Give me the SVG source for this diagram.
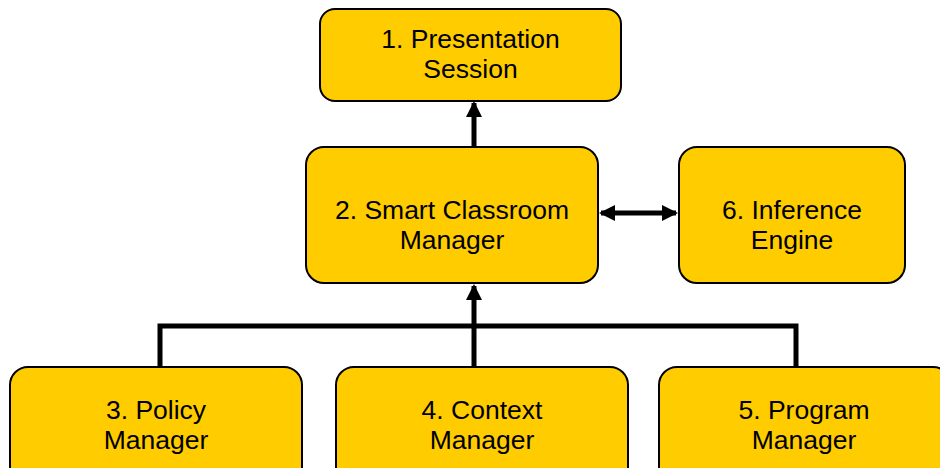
<svg xmlns="http://www.w3.org/2000/svg" width="940" height="468" viewBox="0 0 940 468">
<style>
.box{fill:#FFCC00;stroke:#000;stroke-width:2}
.t{font-family:"Liberation Sans",Arial,sans-serif;font-size:26.5px;fill:#000;text-anchor:middle}
.c{stroke:#000;stroke-width:5;fill:none}
</style>
<defs>
<marker id="ah" viewBox="0 0 16 16" refX="14" refY="8" markerWidth="16" markerHeight="16" orient="auto-start-reverse" markerUnits="userSpaceOnUse">
<path d="M0,0L16,8L0,16z" fill="#000"/>
</marker>
</defs>
<g id="connectors">
<line class="c" x1="474" y1="147" x2="474" y2="103" marker-end="url(#ah)"/>
<line class="c" x1="601" y1="213" x2="676" y2="213" marker-start="url(#ah)" marker-end="url(#ah)"/>
<line class="c" x1="474" y1="367" x2="474" y2="286" marker-end="url(#ah)"/>
<polyline class="c" points="160,367 160,326 796,326 796,367"/>
</g>
<g id="n1"><rect class="box" x="320" y="9" width="301" height="92" rx="15"/><text class="t" x="470.5" y="48">1. Presentation</text><text class="t" x="470.5" y="78">Session</text></g>
<g id="n2"><rect class="box" x="306" y="147" width="292" height="136" rx="18"/><text class="t" x="452" y="219">2. Smart Classroom</text><text class="t" x="452" y="249">Manager</text></g>
<g id="n6"><rect class="box" x="679" y="147" width="226" height="136" rx="18"/><text class="t" x="792" y="219">6. Inference</text><text class="t" x="792" y="249">Engine</text></g>
<g id="n3"><rect class="box" x="10" y="367" width="292" height="120" rx="18"/><text class="t" x="156" y="419">3. Policy</text><text class="t" x="156" y="449">Manager</text></g>
<g id="n4"><rect class="box" x="336" y="367" width="292" height="120" rx="18"/><text class="t" x="482" y="419">4. Context</text><text class="t" x="482" y="449">Manager</text></g>
<g id="n5"><rect class="box" x="659" y="367" width="292" height="120" rx="18"/><text class="t" x="804" y="419">5. Program</text><text class="t" x="804" y="449">Manager</text></g>
</svg>
